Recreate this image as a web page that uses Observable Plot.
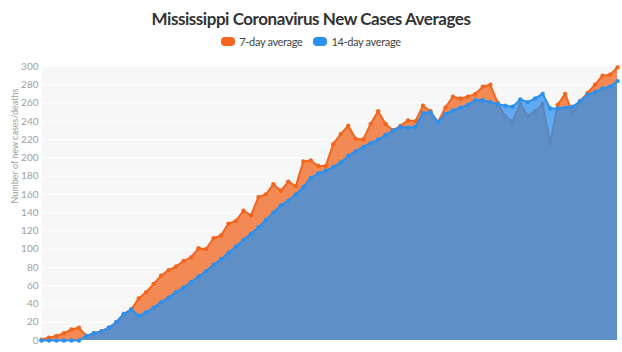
<!DOCTYPE html>
<html>
<head>
<meta charset="utf-8">
<script src="https://cdn.jsdelivr.net/npm/d3@7"></script>
<script src="https://cdn.jsdelivr.net/npm/@observablehq/plot@0.6"></script>
<style>
  html, body { margin: 0; padding: 0; background: #fff; }
  #wrap { width: 622px; height: 352px; overflow: hidden; font-family: Lato, "Open Sans", sans-serif; }
  #hdr { position: relative; height: 56px; }
  #title { position: absolute; left: 0; right: 0; top: 8px; text-align: center; font-weight: 700; font-size: 17px; letter-spacing: -0.45px; color: #333; }
  #legend { position: absolute; left: 0; right: 0; top: 35px; display: flex; justify-content: center; gap: 11px; font-size: 11px; letter-spacing: -0.35px; color: #444; }
  #legend span { display: inline-flex; align-items: center; }
  #legend i { display: inline-block; width: 14px; height: 9px; border-radius: 4px; margin-right: 4px; }
</style>
</head>
<body>
<div id="wrap">
  <div id="hdr">
    <div id="title"></div>
    <div id="legend"></div>
  </div>
  <div id="chart"></div>
</div>
<script>
const titleText = "Mississippi Coronavirus New Cases Averages";
const seriesNames = ["7-day average", "14-day average"];
const seriesColors = ["#f2661f", "#2c90ee"];
const yLabel = "Number of new cases/deaths";
const yTicks = [0, 20, 40, 60, 80, 100, 120, 140, 160, 180, 200, 220, 240, 260, 280, 300];

// day index 0..77
const avg7 = [1, 3, 5, 8, 12, 14, 5, 8, 10, 14, 20, 29, 34, 46, 53, 62, 71, 77, 81, 87,
  91, 101, 100, 112, 115, 128, 131, 142, 137, 157, 160, 171, 164, 174, 169, 196, 197, 191, 191, 215,
  226, 235, 221, 220, 237, 251, 237, 230, 235, 241, 240, 257, 251, 239, 255, 267, 265, 267, 270, 278,
  280, 260, 245, 240, 259, 246, 251, 259, 216, 258, 270, 249, 262, 271, 280, 290, 291, 299];
const avg14 = [0, 0, 0, 0, 0, 0, 5, 8, 10, 14, 20, 29, 34, 27, 31, 36, 42, 47, 53, 58,
  64, 70, 76, 83, 89, 96, 103, 110, 117, 124, 132, 140, 148, 153, 160, 168, 178, 183, 186, 190,
  195, 202, 207, 212, 216, 220, 225, 230, 234, 233, 234, 249, 250, 239, 248, 252, 255, 258, 263, 263,
  261, 259, 257, 256, 264, 261, 265, 270, 254, 254, 255, 256, 262, 269, 272, 276, 278, 284];
const days = avg7.map((_, i) => i);

document.getElementById("title").textContent = titleText;
const leg = document.getElementById("legend");
seriesNames.forEach((n, k) => {
  const s = document.createElement("span");
  const sw = document.createElement("i");
  sw.style.background = seriesColors[k];
  s.appendChild(sw);
  s.appendChild(document.createTextNode(n));
  leg.appendChild(s);
});

const data = days.map((d, i) => ({day: d, a7: avg7[i], a14: avg14[i]}));

const chart = Plot.plot({
  width: 622,
  height: 296,
  marginTop: 10,
  marginBottom: 12,
  marginLeft: 41,
  marginRight: 5,
  style: {fontFamily: "Lato, sans-serif", fontSize: "10px", color: "#999", background: "transparent"},
  x: {domain: [0, days.length - 1], axis: null},
  y: {domain: [0, 300], axis: null},
  marks: [
    Plot.frame({fill: "#f7f7f7", stroke: "none"}),
    Plot.gridY(yTicks, {stroke: "#ffffff", strokeOpacity: 1, strokeWidth: 1}),
    Plot.areaY(data, {x: "day", y: "a7", fill: seriesColors[0], fillOpacity: 0.75}),
    Plot.lineY(data, {x: "day", y: "a7", stroke: seriesColors[0], strokeWidth: 2}),
    Plot.dot(data, {x: "day", y: "a7", fill: seriesColors[0], r: 2.2}),
    Plot.areaY(data, {x: "day", y: "a14", fill: seriesColors[1], fillOpacity: 0.75}),
    Plot.lineY(data, {x: "day", y: "a14", stroke: seriesColors[1], strokeWidth: 2}),
    Plot.dot(data, {x: "day", y: "a14", fill: seriesColors[1], r: 2.2}),
    Plot.axisY(yTicks, {tickSize: 0, tickPadding: 3, label: null, fill: "#a0a0a0"}),
    Plot.text([yLabel], {frameAnchor: "left", dx: -26, rotate: -90, fontSize: 9, fill: "#a0a0a0"})
  ]
});
document.getElementById("chart").appendChild(chart);
</script>
</body>
</html>
